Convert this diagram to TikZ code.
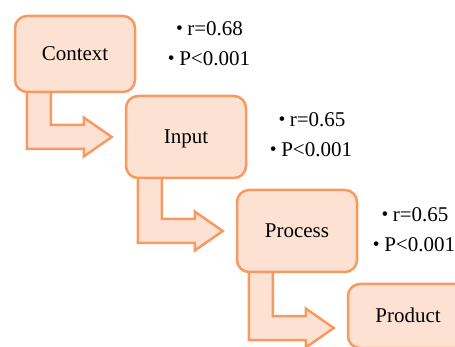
\documentclass[tikz,border=0pt]{standalone}
\usepackage{fontspec}
\setmainfont{Liberation Serif}
\usetikzlibrary{backgrounds,calc}
\definecolor{boxline}{HTML}{F79A62}
\definecolor{boxfill}{HTML}{FDE2D3}
% small raised bullet in front of each statistic
\newcommand{\statbullet}{\raisebox{0.06em}{\scalebox{0.92}{\textbullet}}\hspace{0.22em}}
% bent block arrow: down from the bottom of #1, then right towards #2 (#3 = extra downward shift)
\newcommand{\bentarrow}[3]{%
  \draw[flow] let \p1=(#1.south west), \p2=([yshift=-#3pt]#2.west) in
    (\x1+13pt,\y1+4pt) -- (\x1+13pt,\y2-12pt) -- (\x2-41pt,\y2-12pt)
    -- (\x2-41pt,\y2-19.5pt) -- (\x2-13pt,\y2) -- (\x2-41pt,\y2+19.5pt)
    -- (\x2-41pt,\y2+12pt) -- (\x1+37pt,\y2+12pt) -- (\x1+37pt,\y1+4pt) -- cycle;}
\begin{document}
\begin{tikzpicture}[x=1pt,y=-1pt,
  stage/.style={draw=boxline, fill=boxfill, line width=2.5pt, rounded corners=12pt,
    minimum width=120pt, minimum height=82pt, text height=14pt, text depth=0pt,
    inner sep=0pt, font=\fontsize{21}{25}\selectfont},
  stat/.style={anchor=base, inner sep=0pt, font=\fontsize{21}{25}\selectfont},
  flow/.style={draw=boxline, fill=boxfill, line width=2.5pt, line join=miter}]
\useasboundingbox (0,0) rectangle (455,347);
\clip (0,0) rectangle (455,347);

% stages
\node[stage, minimum height=76pt] (ctx) at (75,54) {Context};
\node[stage] (inp) at (186,137) {Input};
\node[stage] (proc) at (297,231) {Process};
\node[stage, minimum height=64pt] (prod) at (408,316) {Product};

% connecting arrows behind the boxes
\begin{scope}[on background layer]
  \bentarrow{ctx}{inp}{0}
  \bentarrow{inp}{proc}{0}
  \bentarrow{proc}{prod}{12}
\end{scope}

% statistics
\node[stat] (r1) at (209.5,36) {\statbullet r=0.68};
\node[stat] (p1) at (209,66) {\statbullet P<0.001};
\node[stat] (r2) at (312,127) {\statbullet r=0.65};
\node[stat] (p2) at (311,157) {\statbullet P<0.001};
\node[stat] (r3) at (415,222) {\statbullet r=0.65};
\node[stat] (p3) at (414,252) {\statbullet P<0.001};
\end{tikzpicture}
\end{document}
